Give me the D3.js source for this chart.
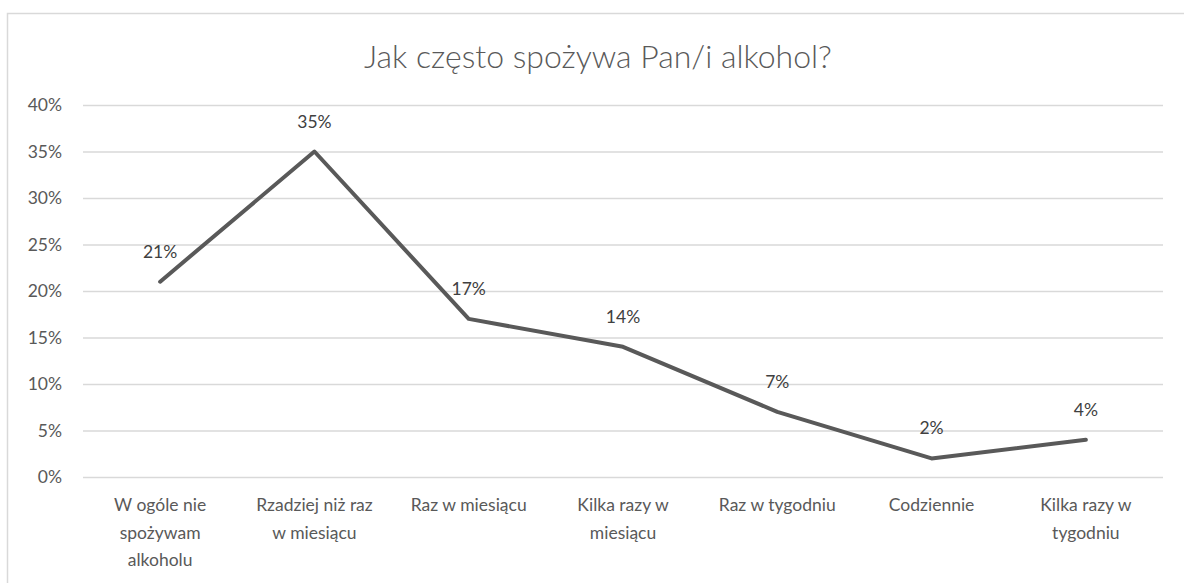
<!DOCTYPE html>
<html><head><meta charset="utf-8">
<script src="https://cdn.jsdelivr.net/npm/d3@7"></script>
<style>body{margin:0;background:#fff;}svg{display:block;}</style>
</head><body>
<script>
const title = "Jak często spożywa Pan/i alkohol?";
const categories = [
  ["W ogóle nie","spożywam","alkoholu"],
  ["Rzadziej niż raz","w miesiącu"],
  ["Raz w miesiącu"],
  ["Kilka razy w","miesiącu"],
  ["Raz w tygodniu"],
  ["Codziennie"],
  ["Kilka razy w","tygodniu"]
];
const values = [21, 35, 17, 14, 7, 2, 4];
const yTicks = [0, 5, 10, 15, 20, 25, 30, 35, 40];

(function(){
const W = 1184, H = 583;
const font = "Lato, 'Open Sans', sans-serif";
const fs = 17.5;
const svg = d3.select("body").append("svg").attr("width", W).attr("height", H);
svg.append("rect").attr("x",0).attr("y",0).attr("width",W).attr("height",H).attr("fill","#fff");
svg.append("path").attr("d",`M7.5,${H} L7.5,13.5 L${W},13.5`).attr("fill","none").attr("stroke","#d9d9d9").attr("stroke-width",1.5);

const pL = 83, pR = 1163, pT = 105, pB = 477;
const x = d3.scaleBand().domain(d3.range(categories.length)).range([pL, pR]);
const y = d3.scaleLinear().domain([0, 40]).range([pB, pT]);

svg.append("text").attr("x", 598).attr("y", 68).attr("text-anchor","middle")
  .attr("font-family", font).attr("font-weight", 300).attr("font-size", 32).attr("fill","#595959").text(title);

const yAxis = d3.axisLeft(y).tickValues(yTicks).tickSize(-(pR-pL)).tickFormat(d => d + "%");
const gy = svg.append("g").attr("transform", `translate(${pL},0)`).call(yAxis);
gy.select(".domain").remove();
gy.selectAll(".tick line").attr("stroke","#d9d9d9").attr("stroke-width",1.5);
gy.selectAll(".tick text").attr("x",-21).attr("font-family",font).attr("font-size",fs).attr("fill","#595959");

const xAxis = d3.axisBottom(x).tickSize(0).tickFormat("");
const gx = svg.append("g").attr("transform", `translate(0,${pB})`).call(xAxis);
gx.select(".domain").remove();
gx.selectAll(".tick").each(function(d){
  const t = d3.select(this).append("text").attr("text-anchor","middle")
    .attr("font-family",font).attr("font-size",fs).attr("fill","#595959");
  categories[d].forEach((line,i)=>{
    t.append("tspan").attr("x",0).attr("y",34 + i*27.7).text(line);
  });
});

const line = d3.line().x((d,i)=> x(i) + x.bandwidth()/2).y(d => y(d));
svg.append("path").datum(values).attr("d", line).attr("fill","none")
  .attr("stroke","#595959").attr("stroke-width",4).attr("stroke-linejoin","round").attr("stroke-linecap","round");

svg.selectAll(".lbl").data(values).enter().append("text").attr("class","lbl")
  .attr("x",(d,i)=> x(i)+x.bandwidth()/2).attr("y", d => y(d) - 24)
  .attr("text-anchor","middle").attr("font-family",font).attr("font-size",fs).attr("fill","#404040")
  .text(d => d + "%");
})();
</script>
</body></html>
